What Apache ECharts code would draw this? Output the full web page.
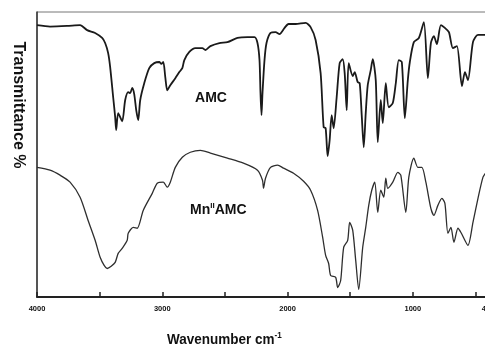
<!DOCTYPE html>
<html>
<head>
<meta charset="utf-8">
<script src="https://cdn.jsdelivr.net/npm/echarts@6/dist/echarts.min.js"></script>
<style>
  html, body { margin: 0; padding: 0; background: #fff; }
  #chart { width: 485px; height: 347px; }
</style>
</head>
<body>
<div id="chart"></div>
<script>
// FT-IR spectra: free ligand (AMC) and its Mn(II) complex
const amcWavenumber = [4000, 3896, 3760, 3656, 3600, 3536, 3480, 3456, 3432, 3416, 3392, 3376, 3368, 3352, 3320, 3296, 3272, 3256, 3240, 3224, 3208, 3192, 3176, 3144, 3104, 3064, 3024, 3008, 2992, 2976, 2960, 2936, 2896, 2864, 2840, 2824, 2784, 2736, 2680, 2656, 2616, 2544, 2480, 2400, 2320, 2264, 2240, 2224, 2216, 2208, 2200, 2184, 2168, 2136, 2096, 2064, 2024, 1992, 1936, 1856, 1816, 1776, 1736, 1712, 1696, 1680, 1664, 1648, 1632, 1608, 1584, 1560, 1544, 1528, 1512, 1480, 1464, 1440, 1424, 1408, 1392, 1376, 1360, 1336, 1320, 1296, 1280, 1256, 1240, 1216, 1192, 1160, 1136, 1112, 1088, 1064, 1040, 1024, 992, 952, 912, 880, 856, 832, 808, 776, 744, 712, 680, 648, 608, 584, 560, 520, 480, 416, 400];
const amcTransmittance = [95.3, 94.8, 95.0, 95.3, 93.5, 92.5, 90.7, 88.9, 85.3, 80.3, 69.5, 62.4, 57.7, 63.8, 60.9, 68.5, 71.3, 71.0, 72.8, 70.6, 64.9, 61.3, 68.5, 74.5, 79.9, 81.7, 82.1, 81.4, 82.1, 76.7, 72.0, 73.8, 76.3, 78.5, 79.9, 82.8, 85.7, 87.1, 87.1, 86.4, 87.8, 88.9, 89.2, 90.7, 91.0, 91.0, 88.9, 82.8, 71.0, 63.1, 71.0, 82.8, 88.9, 92.5, 92.8, 92.1, 94.3, 95.7, 95.7, 96.1, 94.6, 90.0, 78.1, 58.8, 58.4, 48.4, 54.1, 63.1, 58.4, 69.5, 81.7, 83.1, 78.1, 64.9, 81.7, 77.1, 78.5, 74.9, 74.5, 63.1, 51.6, 63.8, 73.8, 79.2, 83.1, 75.6, 53.4, 68.5, 60.2, 74.5, 65.9, 67.4, 74.5, 82.8, 82.1, 62.0, 75.6, 82.1, 89.2, 90.7, 96.4, 76.3, 88.9, 91.4, 88.5, 95.3, 94.3, 92.8, 87.1, 87.8, 73.5, 78.5, 75.6, 89.2, 91.8, 91.8, 91.8];

const mnWavenumber = [4000, 3896, 3816, 3736, 3656, 3592, 3536, 3496, 3464, 3440, 3408, 3376, 3352, 3320, 3280, 3272, 3232, 3200, 3152, 3080, 3040, 2992, 2960, 2936, 2896, 2840, 2776, 2696, 2616, 2480, 2352, 2240, 2200, 2192, 2176, 2136, 2080, 2032, 1952, 1872, 1816, 1760, 1720, 1696, 1672, 1656, 1616, 1600, 1576, 1552, 1520, 1504, 1480, 1456, 1432, 1400, 1376, 1352, 1328, 1304, 1280, 1256, 1232, 1216, 1200, 1160, 1120, 1096, 1056, 1032, 992, 960, 928, 896, 856, 832, 800, 768, 744, 720, 696, 672, 640, 616, 560, 520, 480, 440, 416, 400];
const mnTransmittance = [44.4, 43.4, 41.6, 39.1, 33.7, 25.4, 18.3, 12.2, 9.3, 8.2, 9.0, 10.4, 13.6, 15.4, 18.3, 20.8, 22.9, 22.6, 29.0, 35.1, 38.7, 39.1, 37.3, 39.1, 44.4, 48.0, 49.8, 50.5, 49.5, 47.7, 45.9, 43.4, 39.8, 36.9, 40.5, 44.4, 45.2, 44.1, 42.3, 39.4, 36.2, 29.0, 19.4, 12.9, 10.0, 5.7, 5.0, 1.4, 3.9, 15.8, 18.3, 24.7, 21.9, 11.1, 0.7, 15.8, 22.9, 30.8, 36.2, 39.1, 28.3, 36.2, 33.7, 40.5, 36.9, 39.1, 42.6, 41.6, 28.3, 40.9, 47.7, 44.4, 44.4, 39.1, 29.7, 27.2, 30.8, 33.3, 31.5, 20.8, 22.9, 17.6, 22.6, 21.1, 16.5, 24.7, 33.3, 40.9, 42.6, 44.1];

const tickValues = [4000, 3500, 3000, 2500, 2000, 1500, 1000, 500];
const tickLabels = [4000, 3000, 2000, 1000, 400];

const pairs = (xs, ys) => xs.map((x, i) => [x, ys[i]]);

const chart = echarts.init(document.getElementById('chart'), null, { renderer: 'canvas' });

chart.setOption({
  animation: false,
  backgroundColor: '#fff',
  grid: {
    left: 37, top: 12, width: 451, height: 285,
    outerBoundsMode: 'none',
    containLabel: false,
    show: true, borderColor: '#777', borderWidth: 1, backgroundColor: 'transparent'
  },
  xAxis: {
    type: 'value',
    inverse: true,
    min: 400,
    max: 4000,
    axisLine: { show: true, onZero: false, lineStyle: { color: '#222', width: 2 } },
    axisTick: { show: true, inside: true, length: 5, customValues: tickValues, lineStyle: { color: '#222', width: 1.5 } },
    axisLabel: {
      customValues: tickLabels,
      formatter: v => String(v),
      margin: 8,
      fontSize: 7.5,
      fontWeight: 'bold',
      color: '#111',
      fontFamily: 'Liberation Sans, Arial, sans-serif',
      showMinLabel: true,
      showMaxLabel: true,
      hideOverlap: false
    },
    splitLine: { show: false }
  },
  yAxis: {
    type: 'value',
    min: -2,
    max: 100,
    axisLine: { show: true, onZero: false, lineStyle: { color: '#333', width: 1.5 } },
    axisTick: { show: false },
    axisLabel: { show: false },
    splitLine: { show: false }
  },
  series: [
    {
      name: 'AMC',
      type: 'line',
      data: pairs(amcWavenumber, amcTransmittance),
      showSymbol: false,
      smooth: 0.25,
      lineStyle: { color: '#1a1a1a', width: 1.8 },
      z: 3
    },
    {
      name: 'MnAMC',
      type: 'line',
      data: pairs(mnWavenumber, mnTransmittance),
      showSymbol: false,
      smooth: 0.25,
      lineStyle: { color: '#2e2e2e', width: 1.3 },
      z: 3
    }
  ],
  graphic: [
    {
      type: 'text',
      x: 18, y: 105,
      rotation: -Math.PI / 2,
      style: {
        text: 'Transmittance %',
        font: 'bold 16px "Liberation Sans", Arial, sans-serif',
        fill: '#111',
        textAlign: 'center',
        textVerticalAlign: 'middle'
      }
    },
    {
      type: 'text',
      x: 167, y: 340,
      scaleX: 0.9,
      style: {
        text: '{a|Wavenumber cm}{s|-1}',
        textVerticalAlign: 'middle',
        rich: {
          a: { font: 'bold 15px "Liberation Sans", Arial, sans-serif', fill: '#111' },
          s: { font: 'bold 9px "Liberation Sans", Arial, sans-serif', fill: '#111', padding: [0, 0, 9, 0] }
        }
      }
    },
    {
      type: 'text',
      x: 211, y: 98,
      style: {
        text: 'AMC',
        font: 'bold 14px "Liberation Sans", Arial, sans-serif',
        fill: '#111',
        textAlign: 'center',
        textVerticalAlign: 'middle'
      }
    },
    {
      type: 'text',
      x: 190, y: 210,
      style: {
        text: '{a|Mn}{s|II}{a|AMC}',
        textVerticalAlign: 'middle',
        rich: {
          a: { font: 'bold 14px "Liberation Sans", Arial, sans-serif', fill: '#111' },
          s: { font: 'bold 8px "Liberation Sans", Arial, sans-serif', fill: '#111', padding: [0, 0, 8, 0] }
        }
      }
    }
  ]
});
</script>
</body>
</html>
